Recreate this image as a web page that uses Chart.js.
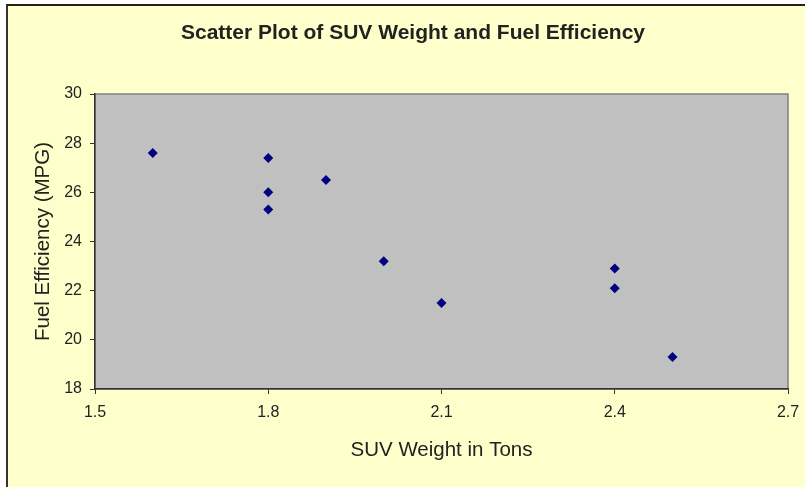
<!DOCTYPE html>
<html>
<head>
<meta charset="utf-8">
<script src="https://cdn.jsdelivr.net/npm/chart.js@4"></script>
<style>
  html, body { margin: 0; padding: 0; background: #fff; }
  #frame {
    position: absolute; left: 6px; top: 4px; width: 805px; height: 487px;
    background: #ffffcc; border-top: 2px solid #222; border-left: 2px solid #333;
  }
  #wrap { position: absolute; left: 0; top: 0; width: 805px; height: 487px; }
</style>
</head>
<body>
<div id="frame"></div>
<div id="wrap"><canvas id="chart" width="805" height="487"></canvas></div>
<script>
const weights = [1.6, 1.8, 1.8, 1.8, 1.9, 2.0, 2.1, 2.4, 2.4, 2.5];
const mpg = [27.6, 27.4, 26.0, 25.3, 26.5, 23.2, 21.5, 22.9, 22.1, 19.3];
const xTicks = [1.5, 1.8, 2.1, 2.4, 2.7];
const yTicks = [18, 20, 22, 24, 26, 28, 30];

const font = "'Liberation Sans', Arial, sans-serif";
const ink = "#222";

// gray plot area with a thin border on top and right
const plotBg = {
  id: "plotBg",
  afterLayout(c) {
    // centre the title over the whole frame, not the padded box
    if (c.titleBlock) { c.titleBlock.left = 21; c.titleBlock.right = 805; }
  },
  beforeDraw(c) {
    const a = c.chartArea, ctx = c.ctx;
    ctx.save();
    ctx.fillStyle = "#c0c0c0";
    ctx.fillRect(a.left, a.top, a.right - a.left, a.bottom - a.top);
    ctx.strokeStyle = "#808080";
    ctx.lineWidth = 1.5;
    ctx.strokeRect(a.left, a.top, a.right - a.left, a.bottom - a.top);
    ctx.restore();
  }
};

new Chart(document.getElementById("chart"), {
  type: "scatter",
  data: {
    datasets: [{
      label: "SUVs",
      data: weights.map((w, i) => ({ x: w, y: mpg[i] })),
      pointStyle: "rectRot",
      pointRadius: 5,
      pointBorderWidth: 0,
      backgroundColor: "#000080",
      borderColor: "#000080",
    }]
  },
  options: {
    responsive: false,
    animation: false,
    layout: { padding: { left: 0, right: 17, top: 0, bottom: 0 } },
    plugins: {
      legend: { display: false },
      tooltip: { enabled: false },
      title: {
        display: true,
        text: "Scatter Plot of SUV Weight and Fuel Efficiency",
        color: ink,
        font: { family: font, size: 21, weight: "bold", lineHeight: 1.2 },
        padding: { top: 21, bottom: 47.8 },
      },
    },
    scales: {
      x: {
        type: "linear",
        min: 1.5, max: 2.7,
        afterBuildTicks: s => { s.ticks = xTicks.map(v => ({ value: v })); },
        afterFit: s => { s.height = 98; s.paddingRight = 12; },
        ticks: { color: ink, padding: 9, font: { family: font, size: 16 }, callback: v => v.toFixed(1) },
        grid: { drawOnChartArea: false, drawTicks: true, tickLength: 5, tickColor: "#333" },
        border: { display: true, color: "#333", width: 1.5 },
        title: {
          display: true, text: "SUV Weight in Tons", color: ink,
          font: { family: font, size: 20.5, lineHeight: 1.2 },
          padding: { top: 0, bottom: 24 },
        },
      },
      y: {
        type: "linear",
        min: 18, max: 30,
        afterBuildTicks: s => { s.ticks = yTicks.map(v => ({ value: v })); },
        afterFit: s => { s.width = 95; },
        ticks: { color: ink, padding: 8, font: { family: font, size: 16 } },
        grid: { drawOnChartArea: false, drawTicks: true, tickLength: 5, tickColor: "#333" },
        border: { display: true, color: "#333", width: 1.5 },
        title: {
          display: true, text: "Fuel Efficiency (MPG)", color: ink,
          font: { family: font, size: 20.5, lineHeight: 1.2 },
          padding: { top: 31, bottom: 0 },
        },
      },
    },
  },
  plugins: [plotBg],
});
</script>
</body>
</html>
